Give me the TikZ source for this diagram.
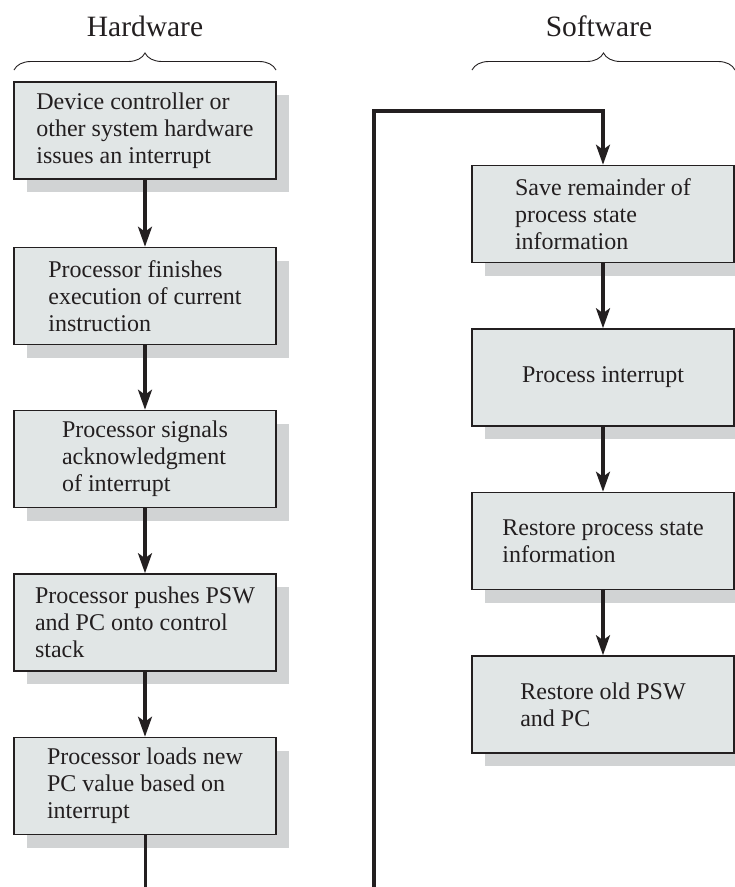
\documentclass[tikz,border=0pt]{standalone}
\usepackage{fontspec}
\setmainfont{Liberation Serif}
\usetikzlibrary{arrows.meta,shadows,decorations.pathreplacing}
\definecolor{boxfill}{HTML}{E1E6E6}
\definecolor{shadowgray}{HTML}{D1D3D4}
\definecolor{ink}{HTML}{231F20}
\tikzset{
  stepbox/.style={draw=ink, line width=1.6pt, fill=boxfill,
    minimum width=262pt, minimum height=97pt, inner sep=0pt,
    align=left, font=\fontsize{24}{27}\selectfont, text=ink,
    drop shadow={shadow xshift=13pt, shadow yshift=-13pt, fill=shadowgray, opacity=1}},
  arr/.style={draw=ink, line width=3.2pt, -{Stealth[length=20pt,width=14pt,inset=5pt]}},
  plainline/.style={draw=ink, line width=3pt},
  bracelin/.style={draw=ink, line width=0.9pt, decorate, decoration={brace, amplitude=17pt}},
  heading/.style={font=\fontsize{29.5}{34}\selectfont, text=ink, anchor=base, inner sep=0pt}
}
\begin{document}
\begin{tikzpicture}[x=1pt,y=-1pt]
\useasboundingbox (0,0) rectangle (735,887);
% headings
\node[heading] (hw) at (145,36) {Hardware};
\node[heading] (sw) at (599,36) {Software};
\coordinate (hbl) at (14,70); \coordinate (hbr) at (276,70);
\coordinate (sbl) at (472,70); \coordinate (sbr) at (735,70);
\draw[bracelin] (hbl) -- (hbr);
\draw[bracelin] (sbl) -- (sbr);
% hardware boxes
\node[stepbox] (h1) at (145,130.5) {Device controller or\\other system hardware\\issues an interrupt};
\node[stepbox] (h2) at (145,296) {Processor finishes\\execution of current\\instruction};
\node[stepbox] (h3) at (145,459) {Processor signals\\acknowledgment\\of interrupt};
\node[stepbox] (h4) at (145,622.5) {Processor pushes PSW\\and PC onto control\\stack};
\node[stepbox] (h5) at (145,786) {Processor loads new\\PC value based on\\interrupt};
% software boxes
\node[stepbox] (s1) at (603,214) {Save remainder of\\process state\\information};
\node[stepbox] (s2) at (603,377.5) {Process interrupt};
\node[stepbox] (s3) at (603,541) {Restore process state\\information};
\node[stepbox] (s4) at (603,704.5) {Restore old PSW\\and PC};
% connectors
\draw[arr] (h1) -- (h2);
\draw[arr] (h2) -- (h3);
\draw[arr] (h3) -- (h4);
\draw[arr] (h4) -- (h5);
\coordinate (hend) at (145,887);
\draw[plainline] (h5.south) -- (hend);
\coordinate (lstart) at (374,887);
\coordinate (lcorner) at (374,111);
\coordinate (rcorner) at (603,111);
\draw[arr] (lstart) -- (lcorner) -- (rcorner) -- (s1.north);
\draw[arr] (s1) -- (s2);
\draw[arr] (s2) -- (s3);
\draw[arr] (s3) -- (s4);
\end{tikzpicture}
\end{document}
